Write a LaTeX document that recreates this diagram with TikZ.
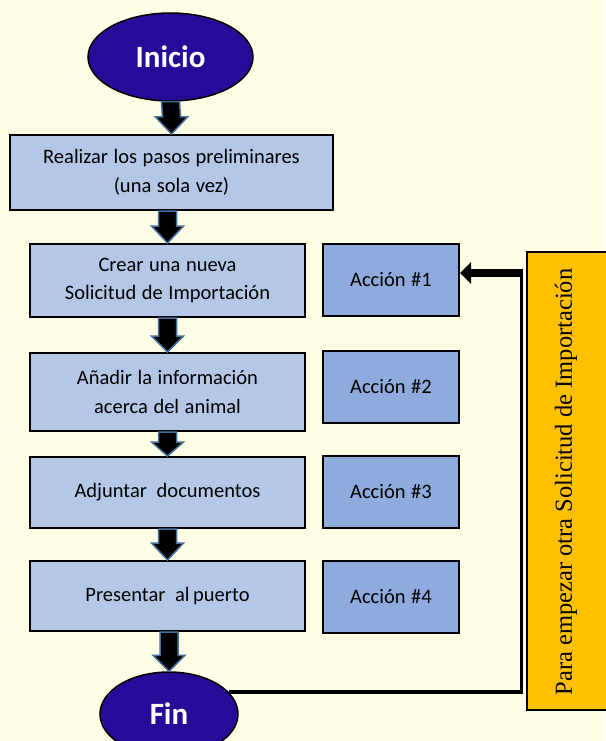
\documentclass[tikz,border=0pt]{standalone}
\usepackage{fontspec}
\setmainfont{Carlito}[WordSpace=1.2]
\newfontfamily\timesf{Liberation Serif}
\usetikzlibrary{shapes.geometric,calc,arrows.meta}
\definecolor{bg}{HTML}{FFFFE6}
\definecolor{boxblue}{HTML}{B4C7E7}
\definecolor{actblue}{HTML}{8FAADC}
\definecolor{indigo}{HTML}{260A98}
\definecolor{arrblue}{HTML}{41719C}
\definecolor{ygold}{HTML}{FFC000}
\tikzset{
  stepbox/.style={draw=black, line width=2pt, fill=boxblue, rectangle, align=center,
    inner sep=0pt, font=\fontsize{20.5}{28.5}\selectfont},
  actbox/.style={draw=black, line width=2pt, fill=actblue, rectangle,
    minimum width=136pt, minimum height=72pt, inner sep=0pt, font=\fontsize{20.5}{24}\selectfont},
  term/.style={ellipse, draw=black, line width=1.5pt, fill=indigo, text=white, inner sep=0pt,
    font=\fontsize{31}{34}\selectfont\bfseries},
  barrow/.style={fill=black, draw=arrblue, line width=1.5pt, line join=miter},
  conn/.style={draw=black, line width=3.5pt},
}
\newcommand\blockarr[3]{%
  \draw[barrow] ($(#1)+(-9,0)$) -- ($(#2)+(-9,-#3)$) -- ($(#2)+(-16,-#3)$) -- (#2)
    -- ($(#2)+(16,-#3)$) -- ($(#2)+(9,-#3)$) -- ($(#1)+(9,0)$) -- cycle;}
\begin{document}
\begin{tikzpicture}[x=1pt,y=-1pt]
\useasboundingbox[fill=bg] (0,0) rectangle (605,741);

\node[term, minimum width=165pt, minimum height=88pt] (ini) at (170.5,57) {Inicio};
\node[stepbox, minimum width=323pt, minimum height=75pt] (b1) at (171.5,172.5)
  {Realizar los pasos preliminares\\(una sola vez)};
\node[stepbox, minimum width=275pt, minimum height=73pt] (b2) at (167.5,280.5)
  {Crear una nueva\\Solicitud de Importación};
\node[stepbox, minimum width=275pt, minimum height=78pt] (b3) at (167.5,392)
  {Añadir la información\\acerca del animal};
\node[stepbox, minimum width=275pt, minimum height=71pt] (b4) at (167.5,492.5)
  {Adjuntar\hspace{0.2em} documentos};
\node[stepbox, minimum width=275pt, minimum height=70pt] (b5) at (167.5,596)
  {Presentar\hspace{0.2em} al\hspace{-0.1em} puerto};
\node[term, minimum width=138pt, minimum height=84pt] (fin) at (169,714) {Fin};

\node[actbox] (a1) at (391,280) {Acción \#1};
\node[actbox] (a2) at (391,387) {Acción \#2};
\node[actbox] (a3) at (391,492) {Acción \#3};
\node[actbox] (a4) at (391,597) {Acción \#4};

\node[draw=black, line width=1.5pt, fill=ygold, minimum width=85pt, minimum height=458pt,
  inner sep=0pt] (yb) at (569.5,481) {};
\node[rotate=90, font=\timesf\fontsize{24.5}{28}\selectfont] (yt) at (566,482)
  {Para empezar otra Solicitud de Importación};

\blockarr{ini.south}{b1.north}{17}
\blockarr{b1.south -| b2.north}{b2.north}{17}
\blockarr{b2.south}{b3.north}{16}
\blockarr{b3.south}{b4.north}{14}
\blockarr{b4.south}{b5.north}{17}
\blockarr{b5.south -| fin.north}{fin.north}{16}

\coordinate (turn) at (521.5,273);
\draw[conn] (fin.20) -- (fin.20 -| turn) -- (turn);
\draw[line width=8.5pt, -{Triangle[length=11pt,width=21pt]}] ($(turn)+(1.75,0)$) -- (a1.east |- turn);
\end{tikzpicture}
\end{document}
